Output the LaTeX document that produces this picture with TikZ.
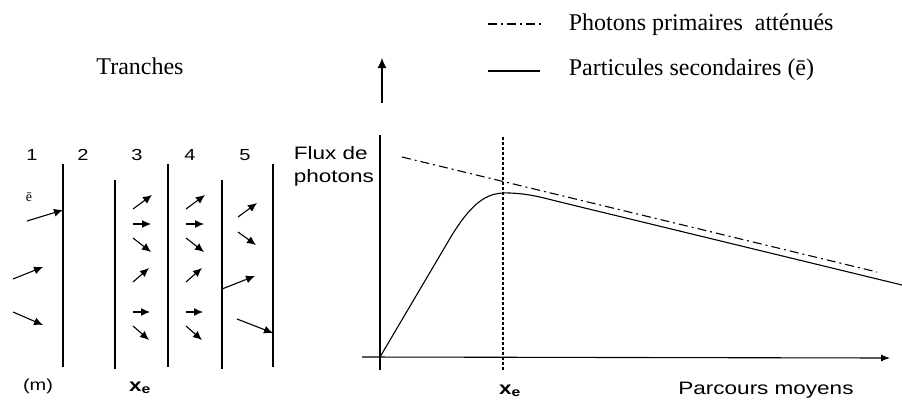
\documentclass[tikz,border=0pt]{standalone}
\usepackage{fontspec}
\setmainfont{Liberation Serif}
\setsansfont{Liberation Sans}
\usepackage{graphicx}
\usetikzlibrary{arrows.meta, calc}

\newcommand{\sflab}[1]{\scalebox{1.25}[1]{#1}}

\begin{document}
\begin{tikzpicture}[x=1pt, y=-1pt, line width=1.1pt,
  tip/.style={-{Latex[length=9pt,width=8pt]}},
  sflarge/.style={font=\fontsize{18}{23}\selectfont\sffamily},
  sfbold/.style={font=\fontsize{18}{23}\selectfont\sffamily\bfseries},
  sfsmall/.style={font=\fontsize{16}{18}\selectfont\sffamily},
  serif/.style={font=\fontsize{24}{28}\selectfont},
  dashdot/.style={dash pattern=on 9pt off 4pt on 2pt off 4pt}]
\useasboundingbox (0,0) rectangle (902,402);

% Legend
\draw[dashdot] (488,24) -- (542,24) coordinate (l1);
\draw (488,71) -- (540,71) coordinate (l2);
\node[serif, anchor=west] (leg1) at ($(l1)+(23,1)$) {Photons primaires\ \ atténués};
\node[serif, anchor=west] (leg2) at ($(l2)+(25,-1)$) {Particules secondaires (ē)};

% Slices
\node[serif] (tranches) at (140,66) {Tranches};
\foreach \x in {63,168,273} \draw (\x,164) -- (\x,367);
\foreach \x in {115,222} \draw (\x,180) -- (\x,369);
\foreach \n/\x in {1/32,2/83,3/137,4/190,5/245}
  \node[sfsmall] (num\n) at (\x,155) {\sflab{\n}};
\node[font=\fontsize{14}{16}\selectfont] (elec) at (29,197) {ē};
\node[sfsmall] (unit) at (38,386) {\sflab{(m)}};
\node[sfbold] (xeleft) at (140,388) {\sflab{x\textsubscript{e}}};

% electrons in slice 1
\draw[tip] (27,221) -- (63,210);
\draw[tip] (13,279) -- (43,267);
\draw[tip] (13,312) -- (43,325);
% electrons in slices 3 and 4
\foreach \dx in {0,53} {
  \draw[tip] (133+\dx,209) -- ++(19,-14);
  \draw[tip] (133+\dx,224) -- ++(18,0);
  \draw[tip] (133+\dx,238) -- ++(18,14);
  \draw[tip] (133+\dx,282) -- ++(16,-14);
  \draw[tip] (133+\dx,312) -- ++(17,0);
  \draw[tip] (133+\dx,326) -- ++(16,14);
}
% electrons in slice 5
\draw[tip] (238,217) -- (257,203);
\draw[tip] (238,232) -- (256,245);
\draw[tip] (222,289) -- (255,276);
\draw[tip] (237,319) -- (273,333);

% Graph
\coordinate (O) at (380,357);
\coordinate (ytop) at (380,135);
\coordinate (xend) at (890,358);
\draw (380,370) -- (ytop);
\draw[-{Latex[length=9pt,width=7pt]}] (362,357) -- (xend);
\draw[-{Latex[length=10pt,width=9pt]}] (382,103) -- (382,58);
\node[sflarge, anchor=west, align=left] (flux) at (290,166) {\sflab{Flux de}\\\sflab{photons}};
\node[sflarge] (parcours) at (766,390) {\sflab{Parcours moyens}};
\node[sfbold] (xe) at (510,391) {\sflab{x\textsubscript{e}}};

% x_e line
\draw[dash pattern=on 3pt off 2pt] (503,137) -- (503,370);
% attenuated primary photons
\draw[dashdot] (402,157) -- (877,272);
% secondary particles
\draw (O) -- (452,235) .. controls (475,198) and (490,192) .. (510,193)
  .. controls (530,194) and (540,197) .. (560,202) -- (902,285);
\end{tikzpicture}
\end{document}
